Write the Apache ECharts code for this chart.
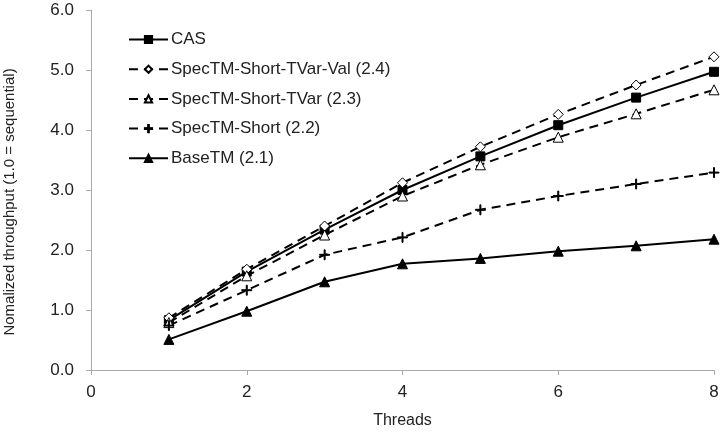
<!DOCTYPE html>
<html>
<head>
<meta charset="utf-8">
<script src="https://cdn.jsdelivr.net/npm/echarts@6/dist/echarts.min.js"></script>
<style>
  html, body { margin: 0; padding: 0; background: #fff; }
  #chart { width: 726px; height: 435px; }
</style>
</head>
<body>
<div id="chart"></div>
<script>
  // threads on x
  var threads = [1, 2, 3, 4, 5, 6, 7, 8];

  var casVals      = [0.83, 1.64, 2.34, 3.00, 3.56, 4.08, 4.54, 4.97];
  var tvarValVals  = [0.87, 1.68, 2.40, 3.12, 3.72, 4.26, 4.75, 5.22];
  var tvarVals     = [0.79, 1.57, 2.25, 2.90, 3.42, 3.88, 4.27, 4.67];
  var shortVals    = [0.74, 1.33, 1.92, 2.21, 2.67, 2.90, 3.10, 3.29];
  var baseVals     = [0.51, 0.98, 1.47, 1.77, 1.86, 1.98, 2.07, 2.18];

  var seriesNames = [
    'CAS',
    'SpecTM-Short-TVar-Val (2.4)',
    'SpecTM-Short-TVar (2.3)',
    'SpecTM-Short (2.2)',
    'BaseTM (2.1)'
  ];

  var xTicks = [0, 2, 4, 6, 8];
  var yMax = 6;

  var plusPath = 'path://M4.5,0H5.5V4.5H10V5.5H5.5V10H4.5V5.5H0V4.5H4.5Z';
  var dash = [9, 6];

  function pairs(vals) {
    var out = [];
    for (var i = 0; i < threads.length; i++) {
      out.push([threads[i], vals[i]]);
    }
    return out;
  }

  function makeSeries(name, vals, symbol, size, fill, lineType) {
    return {
      name: name,
      type: 'line',
      data: pairs(vals),
      symbol: symbol,
      symbolSize: size,
      showAllSymbol: true,
      lineStyle: { color: '#000', width: 2, type: lineType },
      itemStyle: { color: fill, borderColor: '#000', borderWidth: 1 },
      emphasis: { disabled: true },
      z: 3
    };
  }

  var myChart = echarts.init(document.getElementById('chart'));
  var option = {
    animation: false,
    backgroundColor: '#fff',
    textStyle: { fontFamily: 'Liberation Sans, Arial, sans-serif' },
    legend: {
      orient: 'vertical',
      left: 123,
      top: 26,
      itemWidth: 39,
      itemHeight: 9,
      itemGap: 12.7,
      data: seriesNames,
      textStyle: { fontSize: 17, color: '#222', padding: [0, 0, 0, -2] }
    },
    grid: { left: 91, right: 12, top: 10, bottom: 65, containLabel: false, outerBoundsMode: 'none' },
    xAxis: {
      type: 'value',
      min: xTicks[0],
      max: xTicks[xTicks.length - 1],
      interval: 2,
      name: 'Threads',
      nameLocation: 'middle',
      nameGap: 43,
      nameTextStyle: { fontSize: 16, color: '#222' },
      axisLine: { show: true, lineStyle: { color: '#aaa', width: 1 } },
      axisTick: { show: true, length: 5, lineStyle: { color: '#aaa' } },
      axisLabel: { fontSize: 17, color: '#222', margin: 14 },
      splitLine: { show: false }
    },
    yAxis: {
      type: 'value',
      min: 0,
      max: yMax,
      interval: 1,
      name: 'Nomalized throughput (1.0 = sequential)',
      nameLocation: 'middle',
      nameGap: 74,
      nameTextStyle: { fontSize: 15, color: '#222', padding: [0, 24, 0, 0] },
      axisLine: { show: true, lineStyle: { color: '#aaa', width: 1 } },
      axisTick: { show: true, length: 5, lineStyle: { color: '#aaa' } },
      axisLabel: {
        fontSize: 17, color: '#222', margin: 17,
        formatter: function (v) { return v.toFixed(1); }
      },
      splitLine: { show: false }
    },
    series: [
      makeSeries(seriesNames[0], casVals, 'rect', 9, '#000', 'solid'),
      makeSeries(seriesNames[1], tvarValVals, 'diamond', 10, '#fff', dash),
      makeSeries(seriesNames[2], tvarVals, 'triangle', 10, '#fff', dash),
      makeSeries(seriesNames[3], shortVals, plusPath, 10, '#000', dash),
      makeSeries(seriesNames[4], baseVals, 'triangle', 10, '#000', 'solid')
    ]
  };
  option && myChart.setOption(option);
</script>
</body>
</html>
